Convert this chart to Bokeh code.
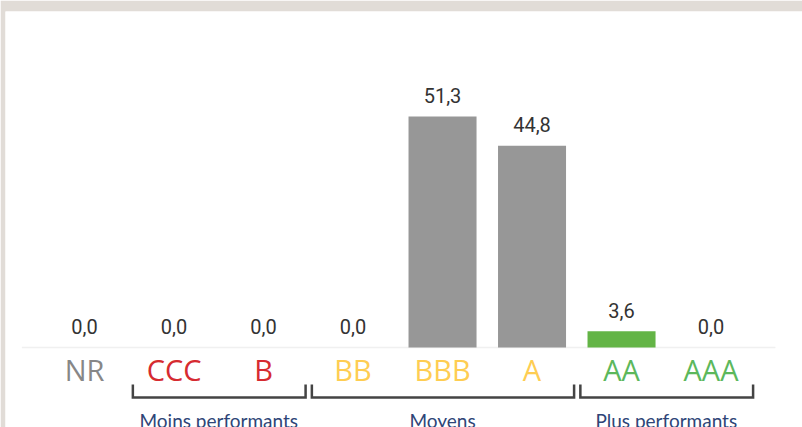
from bokeh.plotting import figure
from bokeh.models import Range1d, ColumnDataSource
from bokeh.core.properties import value
from bokeh.embed import file_html
from bokeh.resources import INLINE

# ---- data ----
categories = ["NR", "CCC", "B", "BB", "BBB", "A", "AA", "AAA"]
values = [0.0, 0.0, 0.0, 0.0, 51.3, 44.8, 3.6, 0.0]
label_colors = ["#878787", "#d62b30", "#d62b30", "#fecd52", "#fecd52", "#fecd52", "#5cb85c", "#5cb85c"]
bar_colors = ["#979797", "#979797", "#979797", "#979797", "#979797", "#979797", "#63b446", "#63b446"]
groups = ["Moins performants", "Moyens", "Plus performants"]
group_first = [1, 3, 6]
group_last = [2, 5, 7]

n = len(categories)
xs = list(range(n))

p = figure(width=802, height=427, output_backend="svg", toolbar_location=None,
           x_axis_type=None, y_axis_type=None,
           x_range=Range1d(-0.883, 8.022), y_range=Range1d(-17.77, 74.62),
           min_border_left=5, min_border_right=0, min_border_bottom=0, min_border_top=11)
p.grid.visible = False
p.outline_line_color = None
p.border_fill_color = "#e1dcd7"
p.background_fill_color = "white"

# baseline
p.segment(x0=[-0.70], y0=[0], x1=[n - 1 + 0.72], y1=[0], line_color="#f0f0f0", line_width=1.5)

src = ColumnDataSource(dict(
    x=xs, top=values, cat=categories, lc=label_colors, bc=bar_colors,
    lab=[f"{v:.1f}".replace(".", ",") for v in values],
))

p.vbar(x="x", top="top", bottom=0, width=0.76, fill_color="bc", line_color=None, source=src)

# value labels
p.text(x="x", y="top", text="lab", source=src, text_align="center", text_baseline="alphabetic",
       y_offset=-21, text_font=value("Roboto"), text_font_size="20px", text_color="#333333")

# category labels
p.text(x="x", y=0, text="cat", source=src, text_align="center", text_baseline="alphabetic",
       y_offset=22, text_font=value("Open Sans"), text_font_size="29px", text_color="lc")

# brackets
bx, by = [], []
for a, b in zip(group_first, group_last):
    x0, x1 = a - 0.46, b + 0.47
    bx.append([x0, x0, x1, x1])
    by.append([-8.2, -11.1, -11.1, -8.2])
p.multi_line(xs=bx, ys=by, line_color="#444444", line_width=2.5, line_join="miter")

gx = [(a + b) / 2 for a, b in zip(group_first, group_last)]
p.text(x=gx, y=[-15.0] * len(groups), text=groups, text_align="center", text_baseline="alphabetic",
       y_offset=5, text_font=value("Lato"), text_font_size="19px", text_color="#2e4577")

open("out.html", "w").write(file_html(p, INLINE))
